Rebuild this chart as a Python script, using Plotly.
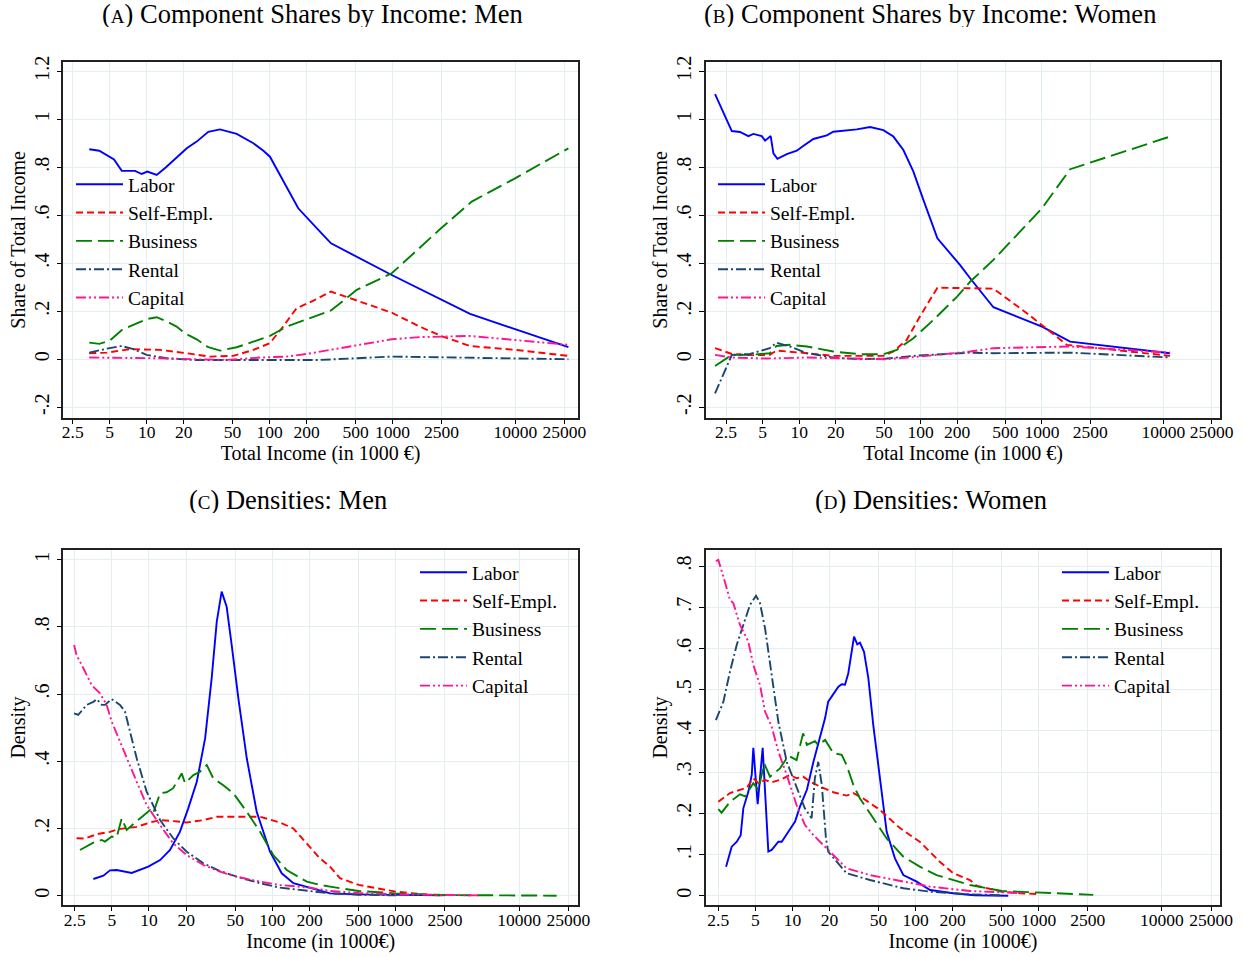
import plotly.graph_objects as go

# ---------------- Panel A: Component shares, Men ----------------
a_labor_x = [3.41, 4.11, 5.42, 6.27, 8.04, 9.11, 10.1, 12.06, 14.35, 17.0, 21.2, 25.5, 31.7, 39.5, 54, 73.8, 89, 100.7, 121.6, 171, 257, 316, 986, 2484, 4276, 9936, 27000]
a_labor_y = [0.875, 0.869, 0.833, 0.785, 0.785, 0.772, 0.782, 0.768, 0.80, 0.833, 0.879, 0.907, 0.948, 0.958, 0.939, 0.90, 0.869, 0.844, 0.768, 0.629, 0.532, 0.483, 0.351, 0.247, 0.189, 0.125, 0.05]
a_self_x = [3.41, 4.73, 7.31, 12.8, 21.2, 32.7, 50.7, 73.8, 100.7, 125.6, 166, 227, 316, 986, 1667, 2484, 4276, 9936, 27000]
a_self_y = [0.025, 0.0275, 0.042, 0.039, 0.025, 0.011, 0.014, 0.039, 0.067, 0.129, 0.2125, 0.244, 0.282, 0.194, 0.136, 0.097, 0.055, 0.039, 0.014]
a_bus_x = [3.41, 4.11, 5.03, 6.27, 7.78, 9.97, 12.06, 14.6, 17.5, 20.5, 25.5, 31.7, 39.5, 54, 73.8, 100.7, 138, 200, 316, 512, 986, 2484, 4416, 9936, 27000]
a_bus_y = [0.069, 0.064, 0.078, 0.122, 0.143, 0.167, 0.175, 0.157, 0.136, 0.108, 0.083, 0.05, 0.036, 0.05, 0.073, 0.097, 0.136, 0.167, 0.203, 0.289, 0.358, 0.546, 0.657, 0.754, 0.879]
a_rent_x = [3.41, 4.73, 6.27, 7.78, 9.97, 14.6, 23.9, 44.8, 100.7, 200, 257, 986, 2484, 9936, 27000]
a_rent_y = [0.0275, 0.044, 0.055, 0.042, 0.018, 0.004, -0.003, -0.003, -0.003, -0.006, -0.003, 0.011, 0.008, 0.004, 0.0]
a_cap_x = [3.41, 6.88, 12.8, 23.9, 44.8, 83.6, 138, 200, 257, 480, 986, 1667, 2484, 4276, 9936, 27000]
a_cap_y = [0.007, 0.007, 0.004, 0.0, -0.003, 0.007, 0.011, 0.022, 0.032, 0.055, 0.083, 0.092, 0.094, 0.097, 0.080, 0.060]

# ---------------- Panel B: Component shares, Women ----------------
b_labor_x = [2.03, 2.79, 3.26, 3.82, 4.20, 4.92, 5.24, 5.83, 6.14, 6.62, 7.91, 9.56, 10.8, 13.1, 16.9, 19.1, 29.8, 38.4, 49.4, 59.7, 72.2, 87.3, 105.5, 137.6, 211, 256, 398, 1000, 1706, 11350]
b_labor_y = [1.105, 0.951, 0.947, 0.930, 0.939, 0.930, 0.911, 0.930, 0.858, 0.835, 0.855, 0.869, 0.889, 0.918, 0.933, 0.948, 0.958, 0.968, 0.955, 0.928, 0.872, 0.782, 0.664, 0.504, 0.393, 0.3375, 0.2167, 0.136, 0.073, 0.025]
b_self_x = [2.03, 2.79, 3.94, 5.73, 6.5, 8.4, 11.6, 19.1, 31.8, 49.4, 59.7, 76.7, 98.8, 137.6, 256, 398, 750, 1602, 11350]
b_self_y = [0.046, 0.022, 0.017, 0.018, 0.036, 0.03, 0.025, 0.014, 0.014, 0.014, 0.032, 0.080, 0.178, 0.298, 0.296, 0.294, 0.192, 0.060, 0.014]
b_bus_x = [2.03, 2.79, 3.94, 5.73, 6.5, 8.4, 11.6, 19.1, 31.8, 49.4, 63.7, 87.3, 127.7, 200, 256, 398, 1000, 1706, 11350]
b_bus_y = [-0.028, 0.018, 0.018, 0.025, 0.055, 0.060, 0.053, 0.032, 0.021, 0.021, 0.039, 0.0875, 0.164, 0.261, 0.323, 0.414, 0.629, 0.792, 0.928]
b_rent_x = [2.03, 2.79, 3.94, 5.73, 6.5, 8.4, 11.6, 19.1, 31.8, 52.7, 87.3, 256, 398, 1706, 11350]
b_rent_y = [-0.142, 0.018, 0.022, 0.046, 0.069, 0.053, 0.025, 0.007, 0.0, 0.003, 0.014, 0.0275, 0.025, 0.0275, 0.007]
b_cap_x = [2.03, 2.79, 5.41, 11.6, 26.2, 52.7, 98.8, 256, 398, 1706, 11350]
b_cap_y = [0.018, 0.007, 0.003, 0.007, 0.003, 0.0, 0.011, 0.032, 0.046, 0.053, 0.0275]

# ---------------- Panel C: Densities, Men ----------------
c_labor_x = [3.54, 4.27, 4.83, 5.47, 7.24, 9.87, 12.3, 14.8, 17.8, 20.8, 24.4, 28.5, 32.2, 35.4, 38.8, 42.6, 46.8, 53, 62, 74.6, 95.7, 119, 148, 200, 293, 500, 1000, 2400]
c_labor_y = [0.0497, 0.0595, 0.0755, 0.0765, 0.0676, 0.0863, 0.106, 0.136, 0.190, 0.260, 0.339, 0.468, 0.647, 0.815, 0.905, 0.860, 0.746, 0.587, 0.409, 0.25, 0.131, 0.0667, 0.037, 0.024, 0.007, 0.004, 0.002, 0.001]
c_self_x = [2.59, 3.03, 3.77, 4.83, 5.64, 6.39, 7.95, 10.2, 12.3, 15.7, 20.2, 27.6, 35.4, 51.4, 79.5, 115, 148, 200, 243, 293, 353, 500, 1000, 1893, 2500]
c_self_y = [0.171, 0.170, 0.183, 0.190, 0.198, 0.200, 0.205, 0.218, 0.225, 0.222, 0.218, 0.225, 0.235, 0.235, 0.235, 0.218, 0.200, 0.146, 0.111, 0.0863, 0.052, 0.032, 0.012, 0.002, 0.001]
c_bus_x = [2.76, 3.54, 4.14, 4.40, 4.99, 5.47, 6.01, 6.59, 8.45, 10.2, 10.8, 12.3, 13.9, 15.7, 18.4, 19.6, 22.9, 25.9, 29.4, 33.2, 40, 48.2, 62, 79.5, 101.6, 130.6, 190, 243, 293, 500, 1000, 2500, 20100]
c_bus_y = [0.136, 0.158, 0.166, 0.161, 0.176, 0.174, 0.230, 0.196, 0.230, 0.255, 0.245, 0.305, 0.308, 0.32, 0.364, 0.335, 0.359, 0.369, 0.389, 0.349, 0.329, 0.305, 0.25, 0.19, 0.121, 0.0765, 0.0417, 0.032, 0.027, 0.014, 0.007, 0.002, 0.0]
c_rent_x = [2.47, 2.67, 3.13, 3.54, 3.77, 4.14, 4.40, 4.99, 5.82, 6.39, 7.02, 7.95, 9.57, 12.3, 15.7, 20.2, 27.6, 37.6, 51.4, 79.5, 115, 200, 293, 500, 1000]
c_rent_y = [0.543, 0.538, 0.568, 0.577, 0.585, 0.568, 0.568, 0.585, 0.568, 0.548, 0.488, 0.409, 0.31, 0.225, 0.171, 0.131, 0.0964, 0.0735, 0.0565, 0.037, 0.024, 0.014, 0.007, 0.003, 0.001]
c_cap_x = [2.47, 2.59, 2.94, 3.43, 4.01, 4.54, 4.99, 5.82, 6.59, 7.95, 9.57, 12.3, 15.7, 20.2, 27.6, 37.6, 51.4, 79.5, 115, 200, 293, 500, 1000, 2500, 4800]
c_cap_y = [0.746, 0.716, 0.677, 0.627, 0.602, 0.568, 0.518, 0.458, 0.409, 0.339, 0.27, 0.21, 0.156, 0.121, 0.0913, 0.0714, 0.0565, 0.0417, 0.032, 0.024, 0.014, 0.008, 0.004, 0.002, 0.001]

# ---------------- Panel D: Densities, Women ----------------
d_labor_x = [2.89, 3.21, 3.53, 3.80, 3.99, 4.38, 4.67, 4.81, 5.22, 5.73, 6.37, 6.78, 7.68, 8.18, 9.26, 10.5, 11.5, 13.1, 14.8, 16.7, 18.4, 19.5, 21.5, 23.6, 25.1, 26.7, 28.4, 30.3, 31.6, 33.6, 35.3, 38.1, 41.3, 45.3, 51.4, 58.2, 67.9, 79.4, 102, 131, 202, 300, 565]
d_labor_y = [0.0704, 0.119, 0.131, 0.147, 0.212, 0.252, 0.293, 0.359, 0.222, 0.359, 0.107, 0.111, 0.131, 0.131, 0.155, 0.180, 0.216, 0.257, 0.325, 0.382, 0.431, 0.471, 0.491, 0.507, 0.513, 0.512, 0.540, 0.592, 0.629, 0.610, 0.614, 0.592, 0.528, 0.414, 0.285, 0.155, 0.0907, 0.0502, 0.034, 0.0138, 0.006, 0.001, 0.0]
d_self_x = [2.5, 3.11, 3.75, 4.25, 4.81, 5.28, 5.99, 6.78, 7.93, 9.55, 10.8, 12.2, 14.3, 16.7, 21.5, 27.5, 31.2, 37.6, 51.4, 74.6, 108, 157, 202, 276, 313, 500, 703, 1000]
d_self_y = [0.228, 0.249, 0.257, 0.262, 0.285, 0.273, 0.281, 0.275, 0.281, 0.293, 0.285, 0.289, 0.275, 0.265, 0.251, 0.243, 0.249, 0.236, 0.208, 0.164, 0.131, 0.0825, 0.0544, 0.038, 0.024, 0.0097, 0.006, 0.004]
d_bus_x = [2.5, 2.66, 3.11, 3.75, 4.12, 4.81, 5.28, 5.90, 6.57, 7.93, 9.26, 10.8, 12.2, 13.1, 15.2, 16.2, 18.4, 21.5, 25.1, 27.5, 31.2, 35.3, 42.6, 58.2, 79.4, 108, 148, 202, 276, 500, 1000, 2767]
d_bus_y = [0.210, 0.2015, 0.228, 0.246, 0.241, 0.273, 0.257, 0.321, 0.289, 0.309, 0.340, 0.329, 0.394, 0.366, 0.375, 0.366, 0.378, 0.346, 0.342, 0.317, 0.269, 0.236, 0.2, 0.139, 0.0947, 0.0704, 0.050, 0.038, 0.026, 0.0114, 0.0073, 0.002]
d_rent_x = [2.39, 2.75, 3.11, 3.53, 3.99, 4.52, 5.06, 5.45, 5.99, 6.78, 7.68, 8.98, 10.8, 12.6, 14.3, 15.2, 16.2, 17.3, 18.7, 19.5, 27.5, 42.6, 79.4, 131, 276, 500]
d_rent_y = [0.426, 0.471, 0.544, 0.609, 0.657, 0.706, 0.728, 0.710, 0.649, 0.536, 0.422, 0.325, 0.261, 0.212, 0.188, 0.285, 0.325, 0.269, 0.139, 0.107, 0.0544, 0.038, 0.018, 0.0097, 0.0034, 0.001]
d_cap_x = [2.39, 2.5, 2.75, 3.11, 3.31, 3.75, 4.38, 4.81, 5.45, 5.99, 6.78, 7.68, 8.98, 10.8, 12.6, 14.8, 19.5, 27.5, 42.6, 79.4, 131, 276, 748]
d_cap_y = [0.812, 0.815, 0.774, 0.718, 0.710, 0.657, 0.617, 0.560, 0.511, 0.447, 0.410, 0.350, 0.293, 0.220, 0.172, 0.147, 0.111, 0.0665, 0.050, 0.034, 0.0219, 0.0114, 0.006]

series_names = ["Labor", "Self-Empl.", "Business", "Rental", "Capital"]
series_colors = ["#0000ff", "#ff0000", "#008000", "#1a476f", "#ff1493"]
series_dash = ["solid", "7px,4px", "16px,6px", "10px,3px,2px,3px", "10px,3px,2px,3px,2px,3px"]

x_tickvals = [2.5, 5, 10, 20, 50, 100, 200, 500, 1000, 2500, 10000, 25000]
x_ticktext = ["2.5", "5", "10", "20", "50", "100", "200", "500", "1000", "2500", "10000", "25000"]
share_tickvals = [-0.2, 0, 0.2, 0.4, 0.6, 0.8, 1.0, 1.2]
share_ticktext = ["-.2", "0", ".2", ".4", ".6", ".8", "1", "1.2"]
densm_tickvals = [0, 0.2, 0.4, 0.6, 0.8, 1.0]
densm_ticktext = ["0", ".2", ".4", ".6", ".8", "1"]
densw_tickvals = [0, 0.1, 0.2, 0.3, 0.4, 0.5, 0.6, 0.7, 0.8]
densw_ticktext = ["0", ".1", ".2", ".3", ".4", ".5", ".6", ".7", ".8"]

panels = [
    ("A", [(a_labor_x, a_labor_y), (a_self_x, a_self_y), (a_bus_x, a_bus_y), (a_rent_x, a_rent_y), (a_cap_x, a_cap_y)]),
    ("B", [(b_labor_x, b_labor_y), (b_self_x, b_self_y), (b_bus_x, b_bus_y), (b_rent_x, b_rent_y), (b_cap_x, b_cap_y)]),
    ("C", [(c_labor_x, c_labor_y), (c_self_x, c_self_y), (c_bus_x, c_bus_y), (c_rent_x, c_rent_y), (c_cap_x, c_cap_y)]),
    ("D", [(d_labor_x, d_labor_y), (d_self_x, d_self_y), (d_bus_x, d_bus_y), (d_rent_x, d_rent_y), (d_cap_x, d_cap_y)]),
]

W, H = 1244, 957
FONT = "Liberation Serif"

fig = go.Figure()
for i, (key, data) in enumerate(panels):
    ax = "" if i == 0 else str(i + 1)
    leg = "legend" if i == 0 else "legend" + str(i + 1)
    for (xs, ys), name, col, dash in zip(data, series_names, series_colors, series_dash):
        fig.add_trace(go.Scatter(
            x=xs, y=ys, mode="lines", name=name,
            line=dict(color=col, width=1.9, dash=dash),
            xaxis="x" + ax, yaxis="y" + ax, legend=leg, showlegend=True,
        ))

def px_x(p):
    return p / W

def px_y(p):
    return 1 - p / H

frames = {
    "A": dict(x0=63.3, x1=577.7, y0=61.7, y1=418.0, xr=[0.3214, 4.507], yr=[-0.245, 1.240], xs=-7),
    "B": dict(x0=706.0, x1=1220.0, y0=61.7, y1=418.0, xr=[0.233, 4.466], yr=[-0.245, 1.240], xs=-7),
    "C": dict(x0=63.3, x1=578.3, y0=550.0, y1=905.0, xr=[0.3056, 4.479], yr=[-0.0277, 1.029], xs=-6),
    "D": dict(x0=706.0, x1=1220.0, y0=550.0, y1=905.0, xr=[0.298, 4.471], yr=[-0.0226, 0.839], xs=-6),
}
yticks = {
    "A": (share_tickvals, share_ticktext, "Share of Total Income"),
    "B": (share_tickvals, share_ticktext, "Share of Total Income"),
    "C": (densm_tickvals, densm_ticktext, "Density"),
    "D": (densw_tickvals, densw_ticktext, "Density"),
}
xtitles = {"A": "Total Income (in 1000 €)", "B": "Total Income (in 1000 €)",
           "C": "Income (in 1000€)", "D": "Income (in 1000€)"}

grid = "#e4eef0"
layout = {}
for i, key in enumerate(["A", "B", "C", "D"]):
    f = frames[key]
    sfx = "" if i == 0 else str(i + 1)
    tv, tt, ytitle = yticks[key]
    layout["xaxis" + sfx] = dict(
        domain=[px_x(f["x0"]), px_x(f["x1"])], anchor="y" + sfx, type="log", range=f["xr"],
        tickvals=x_tickvals, ticktext=x_ticktext, ticks="outside", ticklen=4, tickcolor="black",
        ticklabelstandoff=f["xs"], automargin=False,
        showgrid=True, gridcolor=grid, gridwidth=1, zeroline=False,
        showline=True, linecolor="#222", linewidth=1.5, mirror=True,
        tickfont=dict(family=FONT, size=17.5, color="black"),
        title=dict(text=xtitles[key], font=dict(family=FONT, size=20, color="black"), standoff=2),
    )
    layout["yaxis" + sfx] = dict(
        domain=[px_y(f["y1"]), px_y(f["y0"])], anchor="x" + sfx, range=f["yr"],
        tickvals=tv, ticktext=tt, ticks="outside", ticklen=5, tickcolor="black", tickangle=-90,
        automargin=False,
        showgrid=True, gridcolor=grid, gridwidth=1, zeroline=False,
        showline=True, linecolor="#222", linewidth=1.5, mirror=True,
        tickfont=dict(family=FONT, size=20, color="black"),
        title=dict(text=ytitle, font=dict(family=FONT, size=20, color="black"), standoff=0),
    )

leg_common = dict(font=dict(family=FONT, size=19.5, color="black"), bgcolor="rgba(0,0,0,0)",
                  borderwidth=0, xanchor="left", yanchor="top", itemwidth=47,
                  tracegroupgap=0)
layout["legend"] = dict(x=px_x(71), y=px_y(165), **leg_common)
layout["legend2"] = dict(x=px_x(713), y=px_y(165), **leg_common)
layout["legend3"] = dict(x=px_x(415), y=px_y(553), **leg_common)
layout["legend4"] = dict(x=px_x(1057), y=px_y(553), **leg_common)

sc = "<span style='font-size:19px'>%s</span>"
titles = [
    ("(" + sc % "A" + ") Component Shares by Income: Men", 312, 14),
    ("(" + sc % "B" + ") Component Shares by Income: Women", 930, 14),
    ("(" + sc % "C" + ") Densities: Men", 288, 500),
    ("(" + sc % "D" + ") Densities: Women", 931, 500),
]
annotations = []
for text, cx, cy in titles:
    annotations.append(dict(text=text, x=px_x(cx), y=px_y(cy), xref="paper", yref="paper",
                            xanchor="center", yanchor="middle", showarrow=False,
                            height=26, valign="middle",
                            font=dict(family=FONT, size=26.5, color="black")))

fig.update_layout(
    width=W, height=H, autosize=False, margin=dict(l=0, r=0, t=0, b=0, autoexpand=False),
    paper_bgcolor="white", plot_bgcolor="white",
    annotations=annotations, showlegend=True,
    **layout,
)

# remove the default page margin and scrollbars so the figure fills the window exactly
fig.write_html(
    "out.html",
    config={"displayModeBar": False, "responsive": False},
    post_script=("document.documentElement.style.overflow='hidden';"
                 "document.body.style.overflow='hidden';"
                 "document.body.style.margin='0px';document.body.style.padding='0px';"),
)
